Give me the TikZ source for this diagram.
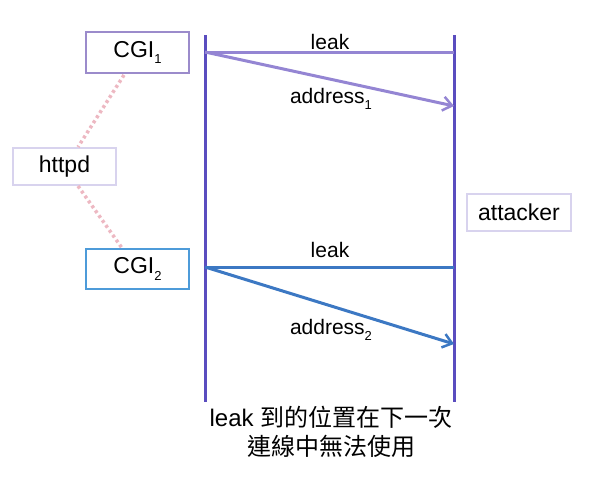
\documentclass[tikz,border=0pt]{standalone}
\usepackage{fontspec}
\setmainfont{Liberation Sans}
\newfontfamily\cjk{Noto Sans CJK TC}
\usetikzlibrary{arrows.meta}
\definecolor{lifec}{HTML}{5A4DBF}
\definecolor{msgA}{HTML}{9485D3}
\definecolor{msgB}{HTML}{3C78C3}
\definecolor{cgiA}{HTML}{9B8BCB}
\definecolor{cgiB}{HTML}{4D9BD9}
\definecolor{lightbox}{HTML}{D8D3EE}
\definecolor{dotc}{HTML}{EDB8C2}
\newcommand{\mysub}[1]{\raisebox{-0.28em}{\fontsize{13}{13}\selectfont #1}}
\tikzset{
  x=1pt, y=-1pt,
  box/.style={draw, line width=2pt, minimum width=103pt, inner sep=0pt, font=\fontsize{23}{26}\selectfont},
  lifeline/.style={draw=lifec, line width=3pt},
  msg/.style={line width=3pt},
  arr/.style={msg, -{Straight Barb[length=9pt,width=14pt,line width=2.5pt]}},
  lbl/.style={font=\fontsize{21}{24}\selectfont, inner sep=0pt},
  dots/.style={draw=dotc, line width=3.5pt, dash pattern=on 3pt off 3pt}
}
\begin{document}
\begin{tikzpicture}
\useasboundingbox (0,0) rectangle (603,480);
% boxes
\node[box, draw=cgiA, minimum height=41pt] (cgi1) at (137.5,52.5) {CGI\mysub{1}};
\node[box, draw=lightbox, minimum height=37pt] (httpd) at (64.5,166.5) {httpd};
\node[box, draw=cgiB, minimum height=40pt] (cgi2) at (137.5,269) {CGI\mysub{2}};
\node[box, draw=lightbox, minimum width=104pt, minimum height=37pt, font=\fontsize{23}{26}\selectfont] (att) at (519,212.5) {attacker};
% lifelines
\coordinate (lt) at (205,35);
\coordinate (lb) at (205,402);
\coordinate (rt) at (454,35);
\coordinate (rb) at (454,402);
\draw[lifeline] (lt) -- (lb);
\draw[lifeline] (rt) -- (rb);
% messages
\coordinate (a1s) at (205,52);
\coordinate (a1e) at (454,52);
\coordinate (a1t) at (454,106);
\coordinate (b1s) at (205,267);
\coordinate (b1e) at (454,267);
\coordinate (b1t) at (454,344);
\draw[msg, draw=msgA] (a1s) -- (a1e);
\draw[arr, draw=msgA] (a1s) -- (a1t);
\draw[msg, draw=msgB] (b1s) -- (b1e);
\draw[arr, draw=msgB] (b1s) -- (b1t);
\node[lbl] (l1) at (330,42) {leak};
\node[lbl] (ad1) at (331,99) {address\mysub{1}};
\node[lbl] (l2) at (330,250) {leak};
\node[lbl] (ad2) at (331,330) {address\mysub{2}};
% dotted links
\draw[dots] (124,75) -- (78,147);
\draw[dots] (78,186) -- (122,248);
% caption
\node[font=\fontsize{24}{29}\selectfont, align=center, inner sep=0pt] (cap) at (331,432) {leak {\cjk 到的位置在下一次}\\{\cjk 連線中無法使用}};
\end{tikzpicture}
\end{document}
